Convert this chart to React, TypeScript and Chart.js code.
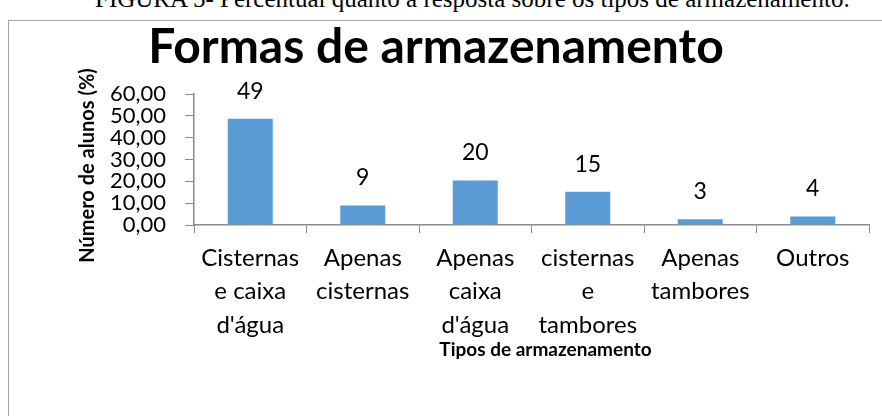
import React, { useEffect, useRef } from "react";
import { Chart, registerables } from "chart.js";

Chart.register(...registerables);

const categories: string[][] = [
  ["Cisternas", "e caixa", "d'água"],
  ["Apenas", "cisternas"],
  ["Apenas", "caixa", "d'água"],
  ["cisternas", "e", "tambores"],
  ["Apenas", "tambores"],
  ["Outros"],
];
const values: number[] = [48.7, 8.9, 20.4, 15.2, 2.6, 3.9];
const valueLabels: string[] = ["49", "9", "20", "15", "3", "4"];
const yMin = 0;
const yMax = 60;
const yStep = 10;
const chartTitle = "Formas de armazenamento";
const xTitle = "Tipos de armazenamento";
const yTitle = "Número de alunos (%)";
const caption = "FIGURA 5- Percentual quanto à resposta sobre os tipos de armazenamento.";

const FONT = "Lato, 'Open Sans', sans-serif";
const AXIS = "#8c8c8c";

const valueLabelPlugin = {
  id: "valueLabels",
  afterDatasetsDraw(chart: any) {
    const ctx = chart.ctx;
    const meta = chart.getDatasetMeta(0);
    ctx.save();
    ctx.font = `23px ${FONT}`;
    ctx.fillStyle = "#000";
    ctx.textAlign = "center";
    ctx.textBaseline = "bottom";
    meta.data.forEach((bar: any, i: number) => {
      ctx.fillText(valueLabels[i], bar.x, bar.y - 16);
    });
    ctx.restore();
  },
};

const titlesPlugin = {
  id: "titles",
  afterDraw(chart: any) {
    const ctx = chart.ctx;
    const area = chart.chartArea;
    ctx.save();
    ctx.fillStyle = "#000";
    ctx.textAlign = "center";
    ctx.textBaseline = "middle";
    // main title
    ctx.font = `bold 48px ${FONT}`;
    ctx.fillText(chartTitle, 427, 27);
    // x axis title
    ctx.font = `bold 19px ${FONT}`;
    ctx.fillText(xTitle, (area.left + area.right) / 2 + 14, area.bottom + 125);
    // y axis title
    ctx.font = `bold 20px ${FONT}`;
    ctx.translate(79, (area.top + area.bottom) / 2 + 6);
    ctx.rotate(-Math.PI / 2);
    ctx.fillText(yTitle, 0, 0);
    ctx.restore();
  },
};

export default function App() {
  const ref = useRef<HTMLCanvasElement | null>(null);

  useEffect(() => {
    if (!ref.current) return;
    const chart = new Chart(ref.current, {
      type: "bar",
      data: {
        labels: categories,
        datasets: [
          {
            data: values,
            backgroundColor: "#5B9BD5",
            borderWidth: 0,
            categoryPercentage: 1,
            barPercentage: 0.4,
          },
        ],
      },
      options: {
        animation: false,
        responsive: false,
        devicePixelRatio: 1,
        layout: { padding: { left: 0, right: 13, top: 73, bottom: 0 } },
        plugins: {
          legend: { display: false },
          tooltip: { enabled: false },
          title: { display: false },
        },
        scales: {
          x: {
            afterFit: (scale: any) => {
              scale.height = 191;
            },
            grid: {
              drawOnChartArea: false,
              drawTicks: true,
              tickLength: 8,
              color: AXIS,
              offset: true,
            },
            border: { color: AXIS, width: 1.5 },
            ticks: {
              color: "#000",
              font: { family: FONT, size: 24, lineHeight: 1.4 },
              padding: 8,
              maxRotation: 0,
              autoSkip: false,
            },
          },
          y: {
            min: yMin,
            max: yMax,
            afterFit: (scale: any) => {
              scale.width = 185;
            },
            grid: {
              drawOnChartArea: false,
              drawTicks: true,
              tickLength: 9,
              color: AXIS,
            },
            border: { color: AXIS, width: 1.5 },
            ticks: {
              stepSize: yStep,
              autoSkip: false,
              color: "#000",
              font: { family: FONT, size: 22, lineHeight: 0.9 },
              padding: 19,
              callback: (v: any) => Number(v).toFixed(2).replace(".", ","),
            },
          },
        },
      },
      plugins: [valueLabelPlugin, titlesPlugin],
    });
    return () => chart.destroy();
  }, []);

  return (
    <div
      style={{
        position: "fixed",
        left: 0,
        top: 0,
        width: 882,
        height: 416,
        overflow: "hidden",
        background: "#fff",
      }}
    >
      <div
        style={{
          position: "absolute",
          left: 95,
          top: -15,
          whiteSpace: "nowrap",
          fontFamily: "'Liberation Serif', 'Times New Roman', serif",
          fontSize: 25,
          lineHeight: "28px",
          color: "#000",
        }}
      >
        {caption}
      </div>
      <div
        style={{
          position: "absolute",
          left: 8,
          top: 20,
          width: 900,
          height: 420,
          border: "1.5px solid #a6a6a6",
          boxSizing: "border-box",
        }}
      />
      <canvas
        ref={ref}
        width={873}
        height={395}
        style={{ position: "absolute", left: 9, top: 21, width: 873, height: 395 }}
      />
    </div>
  );
}
